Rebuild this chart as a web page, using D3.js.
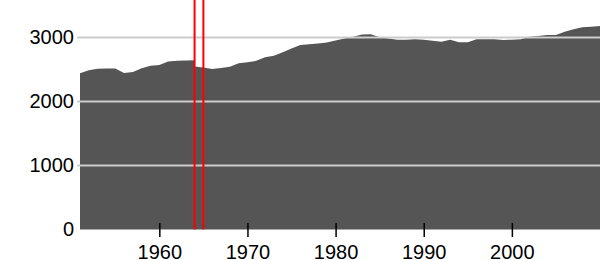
<!DOCTYPE html>
<html>
<head>
<meta charset="utf-8">
<script src="https://cdn.jsdelivr.net/npm/d3@7/dist/d3.min.js"></script>
<style>
  html, body { margin: 0; padding: 0; background: #fff; }
  svg { display: block; }
  text { font-family: "Liberation Sans", Arial, Helvetica, sans-serif; }
</style>
</head>
<body>
<svg id="chart" width="600" height="260"></svg>
<script>
// ---- data ----
const years = [1951,1952,1953,1954,1955,1956,1957,1958,1959,1960,
               1961,1962,1963,1964,1964,1965,1966,1967,1968,1969,1970,
               1971,1972,1973,1974,1975,1976,1977,1978,1979,1980,
               1981,1982,1983,1984,1985,1986,1987,1988,1989,1990,
               1991,1992,1993,1994,1995,1996,1997,1998,1999,2000,
               2001,2002,2003,2004,2005,2006,2007,2008,2009,2010];
const values = [2440,2490,2510,2515,2515,2445,2460,2520,2560,2570,
                2625,2635,2640,2645,2545,2530,2508,2525,2544,2597,2615,
                2635,2690,2715,2770,2830,2883,2893,2905,2920,2955,
                2985,3010,3045,3050,3005,2985,2965,2965,2972,2965,
                2950,2935,2965,2925,2925,2972,2972,2972,2961,2965,
                2972,3013,3025,3039,3039,3090,3130,3159,3169,3180];
const xTicks = [1960, 1970, 1980, 1990, 2000];
const yTicks = [0, 1000, 2000, 3000];
const markerYears = [1964, 1965];

const data = years.map((yr, i) => ({ year: yr, value: values[i] }));

const svg = d3.select("#chart");
const left = 80, right = 600, bottom = 229.5;
const FONT = '"Liberation Sans", Arial, Helvetica, sans-serif';

const x = d3.scaleLinear().domain([1951, 2010]).range([left, right]);
const y = d3.scaleLinear().domain([0, 3000]).range([bottom, 37.5]);

// area
svg.append("path")
  .datum(data)
  .attr("fill", "#555555")
  .attr("d", d3.area().x(d => x(d.year)).y0(y(0)).y1(d => y(d.value)));

// gridlines
svg.append("g").selectAll("line")
  .data(yTicks.filter(t => t !== 0))
  .join("line")
  .attr("x1", left - 3).attr("x2", right)
  .attr("y1", d => y(d)).attr("y2", d => y(d))
  .attr("stroke", "#cccccc").attr("stroke-width", 2);

// red marker lines
svg.append("g").selectAll("line")
  .data(markerYears)
  .join("line")
  .attr("x1", d => x(d)).attr("x2", d => x(d))
  .attr("y1", 0).attr("y2", bottom)
  .attr("stroke", "#ff0000").attr("stroke-width", 2);

// y axis labels
const yAxis = d3.axisLeft(y).tickValues(yTicks).tickFormat(d3.format("d"))
  .tickSize(0).tickPadding(6);
const gy = svg.append("g").attr("transform", `translate(${left},0)`).call(yAxis);
gy.select(".domain").remove();
gy.selectAll("text").attr("font-size", 20).attr("fill", "#000").attr("font-family", FONT);

// x axis
const xAxis = d3.axisBottom(x).tickValues(xTicks).tickFormat(d3.format("d"))
  .tickSize(14).tickPadding(8);
const gx = svg.append("g").attr("transform", `translate(0,${bottom - 6.5})`).call(xAxis);
gx.select(".domain").remove();
gx.selectAll("line").attr("stroke", "#000").attr("stroke-width", 1.5);
gx.selectAll("text").attr("font-size", 20).attr("fill", "#000").attr("font-family", FONT);
</script>
</body>
</html>
